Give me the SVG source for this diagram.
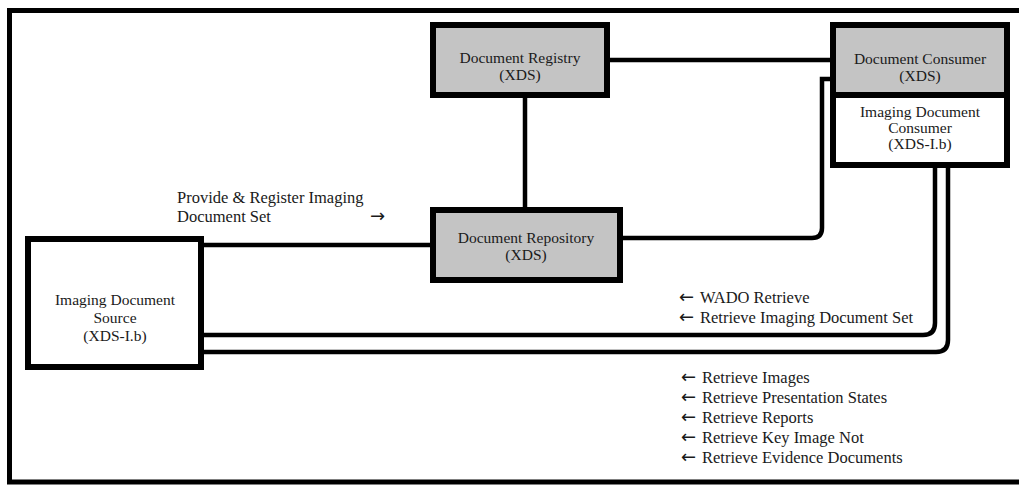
<svg xmlns="http://www.w3.org/2000/svg" width="1019" height="485" viewBox="0 0 1019 485">
  <style>
    .frame { fill: none; stroke: #000; stroke-width: 5; }
    .box { stroke: #000; stroke-width: 6; }
    .gray { fill: #c4c4c4; }
    .white { fill: #fff; }
    .wire { fill: none; stroke: #000; stroke-width: 4.5; }
    .ntext { font-family: "Liberation Serif", "DejaVu Serif", serif; font-size: 15.5px; fill: #1a1a1a; text-anchor: middle; }
    .ltext { font-family: "Liberation Serif", "DejaVu Serif", serif; font-size: 16.5px; fill: #1a1a1a; }
    .arr { font-family: "DejaVu Sans", sans-serif; font-size: 18px; }
  </style>

  <rect width="1019" height="485" fill="#fff"/>

  <!-- outer frame: left, top and bottom edges only -->
  <path class="frame" d="M 1019 10.5 H 9.5 V 482 H 1019"/>

  <!-- connectors -->
  <g id="connectors">
    <!-- Registry to Consumer -->
    <line class="wire" x1="610" y1="60" x2="830" y2="60"/>
    <!-- Registry to Repository -->
    <line class="wire" x1="525" y1="98" x2="525" y2="207"/>
    <!-- Repository to Consumer -->
    <path class="wire" d="M 623 238 H 812 Q 822 238 822 228 V 79 H 830"/>
    <!-- Source to Repository -->
    <line class="wire" x1="204" y1="245" x2="430" y2="245"/>
    <!-- Source to Imaging Document Consumer (two retrieve paths) -->
    <path class="wire" d="M 204 335 H 923 Q 935 335 935 323 V 168"/>
    <path class="wire" d="M 204 352 H 936 Q 948 352 948 340 V 168"/>
  </g>

  <g id="registry">
    <rect class="box gray" x="433" y="25" width="174" height="70"/>
    <text class="ntext" x="520" y="63">Document Registry</text>
    <text class="ntext" x="520" y="80">(XDS)</text>
  </g>

  <g id="consumer">
    <rect class="box white" x="833" y="25" width="174" height="140"/>
    <rect class="gray" x="836" y="28" width="168" height="64"/>
    <line x1="833" y1="95" x2="1007" y2="95" stroke="#000" stroke-width="6"/>
    <text class="ntext" x="920" y="64">Document Consumer</text>
    <text class="ntext" x="920" y="81">(XDS)</text>
    <text class="ntext" x="920" y="117">Imaging Document</text>
    <text class="ntext" x="920" y="133">Consumer</text>
    <text class="ntext" x="920" y="149">(XDS-I.b)</text>
  </g>

  <g id="repository">
    <rect class="box gray" x="433" y="210" width="187" height="70"/>
    <text class="ntext" x="526" y="243">Document Repository</text>
    <text class="ntext" x="526" y="260">(XDS)</text>
  </g>

  <g id="source">
    <rect class="box white" x="28" y="239" width="173" height="128"/>
    <text class="ntext" x="115" y="305">Imaging Document</text>
    <text class="ntext" x="115" y="323">Source</text>
    <text class="ntext" x="115" y="341">(XDS-I.b)</text>
  </g>

  <g id="labels">
    <text class="ltext" x="177" y="203">Provide &amp; Register Imaging</text>
    <text class="ltext" y="222"><tspan x="177">Document Set</tspan><tspan class="arr" x="370">→</tspan></text>

    <text class="ltext" y="303"><tspan class="arr" x="679">←</tspan><tspan x="700">WADO Retrieve</tspan></text>
    <text class="ltext" y="323"><tspan class="arr" x="679">←</tspan><tspan x="700">Retrieve Imaging Document Set</tspan></text>

    <text class="ltext" y="383"><tspan class="arr" x="681">←</tspan><tspan x="702">Retrieve Images</tspan></text>
    <text class="ltext" y="403"><tspan class="arr" x="681">←</tspan><tspan x="702">Retrieve Presentation States</tspan></text>
    <text class="ltext" y="423"><tspan class="arr" x="681">←</tspan><tspan x="702">Retrieve Reports</tspan></text>
    <text class="ltext" y="443"><tspan class="arr" x="681">←</tspan><tspan x="702">Retrieve Key Image Not</tspan></text>
    <text class="ltext" y="463"><tspan class="arr" x="681">←</tspan><tspan x="702">Retrieve Evidence Documents</tspan></text>
  </g>
</svg>
